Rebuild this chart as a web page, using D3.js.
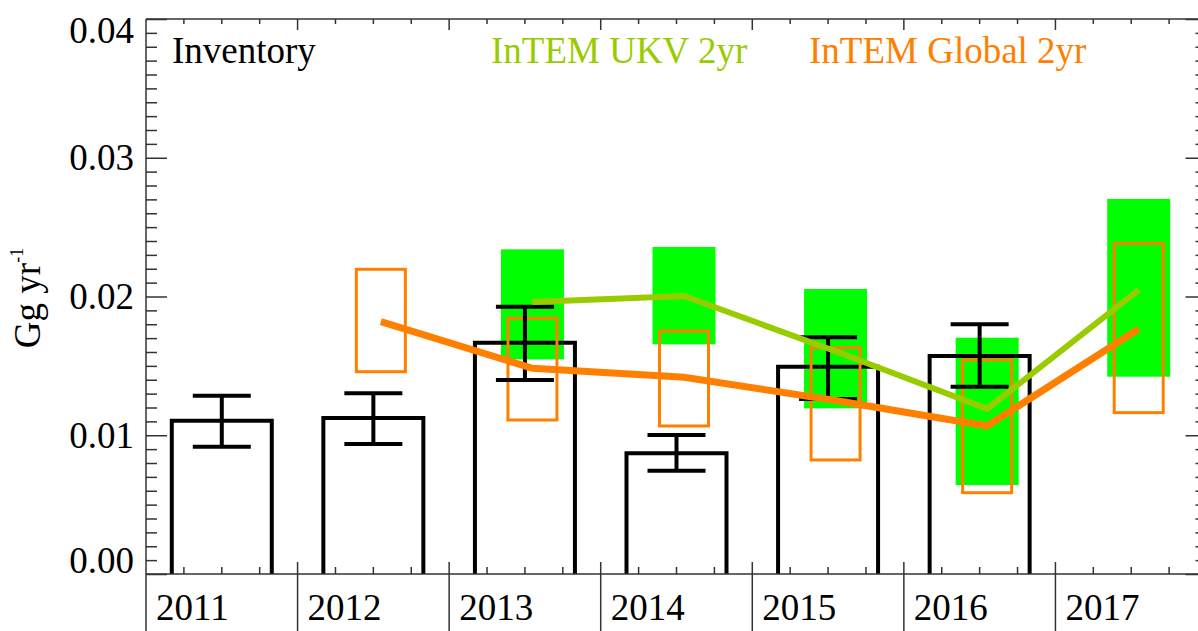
<!DOCTYPE html>
<html>
<head>
<meta charset="utf-8">
<script src="https://cdn.jsdelivr.net/npm/d3@7"></script>
<style>
  html, body { margin: 0; padding: 0; background: #fff; }
  svg { display: block; }
  text { font-family: "Liberation Serif", "Times New Roman", Times, serif; }
</style>
</head>
<body>
<svg id="chart" width="1198" height="631"></svg>
<script>
// ---- data ----
const years = ["2011", "2012", "2013", "2014", "2015", "2016", "2017"];
const inventory     = [0.01105, 0.01124, 0.01667, 0.00870, 0.01494, 0.01571, null];
const inventoryLow  = [0.00917, 0.00937, 0.01398, 0.00745, 0.01261, 0.01350, null];
const inventoryHigh = [0.01285, 0.01302, 0.01926, 0.01002, 0.01706, 0.01800, null];
const ukv     = [null, null, 0.01960, 0.02004, 0.01605, 0.01190, 0.02047];
const ukvLow  = [null, null, 0.01547, 0.01655, 0.01194, 0.00641, 0.01422];
const ukvHigh = [null, null, 0.02340, 0.02357, 0.02054, 0.01703, 0.02703];
const globalEst  = [null, 0.01819, 0.01483, 0.01418, 0.01250, 0.01067, 0.01766];
const globalLow  = [null, 0.01458, 0.01110, 0.01067, 0.00822, 0.00586, 0.01163];
const globalHigh = [null, 0.02196, 0.01843, 0.01751, 0.01631, 0.01542, 0.02383];
const yTickValues = [0, 0.01, 0.02, 0.03, 0.04];
const legendLabels = ["Inventory", "InTEM UKV 2yr", "InTEM Global 2yr"];

// ---- layout ----
const svg = d3.select("#chart");
const pLeft = 146, pRight = 1207, pTop = 19, pBottom = 574;
const x = d3.scaleBand().domain(years).range([pLeft, pRight]).padding(0);
const y = d3.scaleLinear().domain([0, 0.04]).range([pBottom, pTop]);
const bw = x.bandwidth();
const cx = yr => x(yr) + bw / 2;
const off = 7.5;                // InTEM estimates slightly offset
const axisCol = "#333";
const cGreenFill = "#00ff00", cUkv = "#99cc00", cGlobal = "#ff8000";

// green uncertainty boxes (UKV)
const ukvIdx = years.map((d, i) => i).filter(i => ukv[i] != null);
svg.append("g").selectAll("rect").data(ukvIdx).join("rect")
  .attr("x", i => cx(years[i]) + off - 31.5)
  .attr("width", 63)
  .attr("y", i => y(ukvHigh[i]))
  .attr("height", i => y(ukvLow[i]) - y(ukvHigh[i]))
  .attr("fill", cGreenFill);

// inventory bars (outline)
const invIdx = years.map((d, i) => i).filter(i => inventory[i] != null);
const barW = 100;
svg.append("g").selectAll("path").data(invIdx).join("path")
  .attr("d", i => {
    const x0 = cx(years[i]) - barW / 2, x1 = x0 + barW, yt = y(inventory[i]);
    return `M${x0},${pBottom}V${yt}H${x1}V${pBottom}`;
  })
  .attr("fill", "none").attr("stroke", "#000").attr("stroke-width", 4);

// orange boxes (Global)
const gIdx = years.map((d, i) => i).filter(i => globalEst[i] != null);
svg.append("g").selectAll("rect").data(gIdx).join("rect")
  .attr("x", i => cx(years[i]) + off - 24.5)
  .attr("width", 49)
  .attr("y", i => y(globalHigh[i]))
  .attr("height", i => y(globalLow[i]) - y(globalHigh[i]))
  .attr("fill", "none").attr("stroke", cGlobal).attr("stroke-width", 3);

// inventory error bars
const eb = svg.append("g").attr("stroke", "#000").attr("stroke-width", 4).attr("fill", "none");
eb.selectAll("path").data(invIdx).join("path")
  .attr("d", i => {
    const c = cx(years[i]), w = 29;
    const yh = y(inventoryHigh[i]), yl = y(inventoryLow[i]);
    return `M${c - w},${yh}H${c + w}M${c},${yh}V${yl}M${c - w},${yl}H${c + w}`;
  });

// lines
const lineGen = d3.line()
  .defined(d => d.v != null)
  .x(d => cx(d.yr) + off)
  .y(d => y(d.v));
svg.append("path")
  .datum(years.map((yr, i) => ({ yr, v: globalEst[i] })))
  .attr("d", lineGen).attr("fill", "none")
  .attr("stroke", cGlobal).attr("stroke-width", 7);
svg.append("path")
  .datum(years.map((yr, i) => ({ yr, v: ukv[i] })))
  .attr("d", lineGen).attr("fill", "none")
  .attr("stroke", cUkv).attr("stroke-width", 6);

// ---- axes ----
const minorY = d3.range(0, 41).map(k => k / 1000).filter(v => !yTickValues.some(t => Math.abs(t - v) < 1e-9));

// left axis major with labels
const gl = svg.append("g").attr("transform", `translate(${pLeft},0)`)
  .call(d3.axisLeft(y).tickValues(yTickValues).tickFormat(d3.format(".2f"))
        .tickSizeInner(-21).tickSizeOuter(0).tickPadding(12));
gl.select(".domain").remove();
gl.selectAll(".tick line").attr("stroke", axisCol).attr("stroke-width", 1.5);
gl.selectAll(".tick text")
  .attr("font-family", '"Liberation Serif", "Times New Roman", serif')
  .attr("font-size", 37).attr("fill", "#000")
  .attr("dy", "0.32em")
  .attr("transform", d => d === 0 ? "translate(0,-13)" : (d === 0.04 ? "translate(0,12)" : null));
// left minor ticks
const glm = svg.append("g").attr("transform", `translate(${pLeft},0)`)
  .call(d3.axisLeft(y).tickValues(minorY).tickFormat("").tickSizeInner(-11).tickSizeOuter(0));
glm.select(".domain").remove();
glm.selectAll(".tick line").attr("stroke", axisCol).attr("stroke-width", 1.5);

// right axis ticks (pointing inward)
const rAx = 1206.5;
const gr = svg.append("g").attr("transform", `translate(${rAx},0)`)
  .call(d3.axisRight(y).tickValues(yTickValues).tickFormat("").tickSizeInner(-21).tickSizeOuter(0));
gr.select(".domain").remove();
gr.selectAll(".tick line").attr("stroke", axisCol).attr("stroke-width", 1.5);
const grm = svg.append("g").attr("transform", `translate(${rAx},0)`)
  .call(d3.axisRight(y).tickValues(minorY).tickFormat("").tickSizeInner(-11).tickSizeOuter(0));
grm.select(".domain").remove();
grm.selectAll(".tick line").attr("stroke", axisCol).attr("stroke-width", 1.5);

// frame lines
const frame = svg.append("g").attr("stroke", axisCol).attr("stroke-width", 1.5);
frame.append("line").attr("x1", pLeft).attr("x2", pLeft).attr("y1", pTop).attr("y2", 631);
frame.append("line").attr("x1", pLeft).attr("x2", 1198).attr("y1", pTop).attr("y2", pTop);
frame.append("line").attr("x1", pLeft).attr("x2", 1198).attr("y1", pBottom).attr("y2", pBottom);

// x ticks: boundaries + quarter minors
const boundaries = years.map(yr => x(yr)).concat([pRight]);
const quarters = [];
years.forEach(yr => { [0.25, 0.5, 0.75].forEach(f => quarters.push(x(yr) + f * bw)); });
frame.selectAll(".bsep").data(boundaries.slice(1)).join("line")
  .attr("x1", d => d).attr("x2", d => d).attr("y1", pBottom - 12).attr("y2", 631);
frame.selectAll(".bmin").data(quarters).join("line")
  .attr("x1", d => d).attr("x2", d => d).attr("y1", pBottom - 7).attr("y2", pBottom);
frame.selectAll(".tmaj").data(boundaries.slice(1)).join("line")
  .attr("x1", d => d).attr("x2", d => d).attr("y1", pTop).attr("y2", pTop + 11);
frame.selectAll(".tmin").data(quarters).join("line")
  .attr("x1", d => d).attr("x2", d => d).attr("y1", pTop).attr("y2", pTop + 5);

// year labels
svg.append("g").selectAll("text").data(years).join("text")
  .attr("x", yr => x(yr) + 10).attr("y", 620)
  .attr("font-size", 37).attr("fill", "#000")
  .text(yr => yr);

// legend texts
const legendX = [172, 491, 809];
const legendC = ["#000", cUkv, cGlobal];
svg.append("g").selectAll("text").data(legendLabels).join("text")
  .attr("x", (d, i) => legendX[i]).attr("y", 63)
  .attr("font-size", 37).attr("fill", (d, i) => legendC[i])
  .text(d => d);

// y title
const yTitle = svg.append("text")
  .attr("transform", "translate(40,298) rotate(-90)")
  .attr("text-anchor", "middle").attr("font-size", 37).attr("fill", "#000");
yTitle.append("tspan").text("Gg yr");
yTitle.append("tspan").attr("font-size", 18).attr("dy", -17).text("-1");
</script>
</body>
</html>
